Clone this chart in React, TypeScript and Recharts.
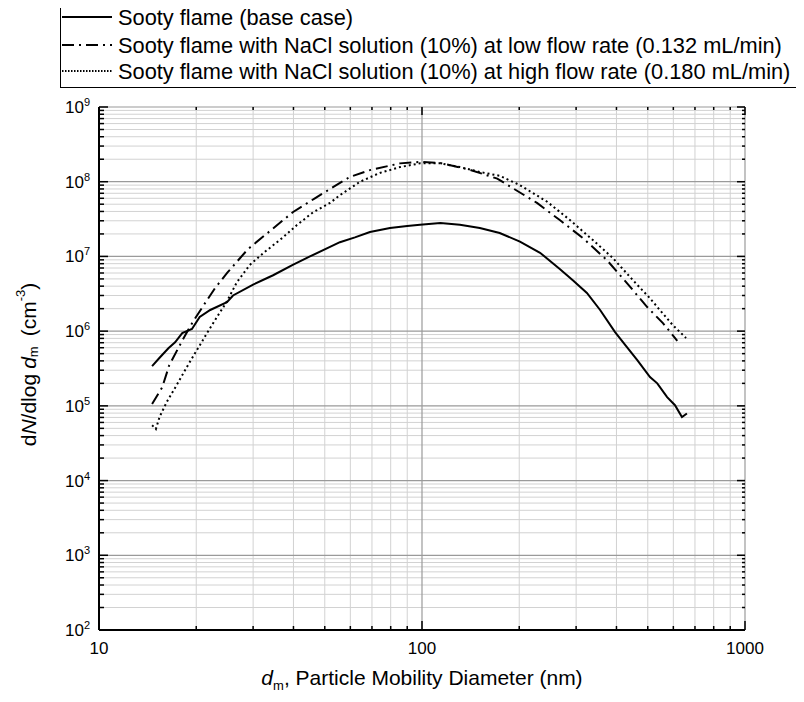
import React from 'react';
import { LineChart, Line, XAxis, YAxis, ReferenceLine, Label } from 'recharts';

const FONT = "'Liberation Sans', Arial, Helvetica, sans-serif";

// Sooty flame (base case)
const baseD = [14.6, 15.4, 16.4, 17.2, 18.1, 19.4, 20.5, 22.1, 24.9, 26.0, 30, 34.6, 39.8, 45, 51.9, 55.7, 62, 69, 79.6, 90, 98.6, 114, 131, 151, 174, 201, 232, 267, 293, 324, 356, 396, 431, 464, 508, 535, 574, 607, 638, 661];
const baseN = [3.4e5, 4.4e5, 5.9e5, 7.1e5, 9.4e5, 1.07e6, 1.55e6, 1.92e6, 2.45e6, 3.0e6, 4.2e6, 5.6e6, 7.7e6, 1.0e7, 1.34e7, 1.55e7, 1.8e7, 2.12e7, 2.4e7, 2.55e7, 2.65e7, 2.8e7, 2.65e7, 2.4e7, 2.06e7, 1.58e7, 1.12e7, 6.8e6, 4.8e6, 3.24e6, 1.92e6, 9.7e5, 6.1e5, 4.1e5, 2.43e5, 2.0e5, 1.31e5, 1.02e5, 7.1e4, 7.9e4];

// NaCl solution at low flow rate
const lowD = [14.6, 15.7, 16.5, 18.2, 19.5, 21.6, 22.9, 25, 28.9, 34.3, 39.8, 46.6, 51.9, 59.8, 69, 85.5, 98.6, 114, 141, 171, 191, 227, 267, 315, 374, 431, 498, 557, 586, 617];
const lowN = [1.06e5, 1.78e5, 3.5e5, 7.8e5, 1.32e6, 2.6e6, 3.8e6, 6.1e6, 1.25e7, 2.3e7, 3.9e7, 6.0e7, 8.0e7, 1.16e8, 1.43e8, 1.76e8, 1.84e8, 1.78e8, 1.44e8, 1.1e8, 8.2e7, 5.2e7, 3.07e7, 1.76e7, 8.9e6, 4.4e6, 2.1e6, 1.28e6, 9.8e5, 7.4e5];

// NaCl solution at high flow rate
const highD = [14.6, 15.0, 15.4, 16.2, 17.4, 18.7, 20.1, 21.6, 23.2, 24.9, 26.7, 29.3, 32.6, 36.9, 41, 46, 51.9, 55.7, 64.3, 74, 85.5, 98.6, 114, 131, 151, 174, 201, 244, 287, 338, 390, 450, 508, 546, 598, 657];
const highN = [5.5e4, 4.9e4, 7.1e4, 1.12e5, 1.9e5, 3.3e5, 5.6e5, 9.4e5, 1.55e6, 2.5e6, 4.5e6, 7.7e6, 1.15e7, 1.76e7, 2.63e7, 3.9e7, 5.2e7, 6.6e7, 1.0e8, 1.31e8, 1.57e8, 1.76e8, 1.76e8, 1.57e8, 1.35e8, 1.2e8, 9.0e7, 5.4e7, 3.07e7, 1.66e7, 9.5e6, 4.8e6, 2.75e6, 1.9e6, 1.2e6, 8.1e5];

const xTicks = [10, 20, 30, 40, 50, 60, 70, 80, 90, 100, 200, 300, 400, 500, 600, 700, 800, 900, 1000];
const yTicks = [
  100, 200, 300, 400, 500, 600, 700, 800, 900,
  1e3, 2e3, 3e3, 4e3, 5e3, 6e3, 7e3, 8e3, 9e3,
  1e4, 2e4, 3e4, 4e4, 5e4, 6e4, 7e4, 8e4, 9e4,
  1e5, 2e5, 3e5, 4e5, 5e5, 6e5, 7e5, 8e5, 9e5,
  1e6, 2e6, 3e6, 4e6, 5e6, 6e6, 7e6, 8e6, 9e6,
  1e7, 2e7, 3e7, 4e7, 5e7, 6e7, 7e7, 8e7, 9e7,
  1e8, 2e8, 3e8, 4e8, 5e8, 6e8, 7e8, 8e8, 9e8,
  1e9,
];

const legendLabels = [
  'Sooty flame (base case)',
  'Sooty flame with NaCl solution (10%) at low flow rate (0.132 mL/min)',
  'Sooty flame with NaCl solution (10%) at high flow rate (0.180 mL/min)',
];

const toRows = (ds: number[], ns: number[]) => ds.map((d, i) => ({ d, n: ns[i] }));
const baseRows = toRows(baseD, baseN);
const lowRows = toRows(lowD, lowN);
const highRows = toRows(highD, highN);

const isDecade = (v: number) => Math.abs(Math.log10(v) - Math.round(Math.log10(v))) < 1e-6;

const W = 796;
const H = 694;
const M = { top: 99, right: 59, bottom: 72, left: 91 };

const BottomLabel = (props: any) => {
  const { x, y, payload } = props;
  const v = payload.value;
  if (!isDecade(v)) return <g />;
  return (
    <text x={x} y={y + 24} textAnchor="middle" fontSize={17} fontFamily={FONT} fill="#000">
      {v}
    </text>
  );
};

const LeftLabel = (props: any) => {
  const { x, y, payload } = props;
  const v = payload.value;
  if (!isDecade(v)) return <g />;
  return (
    <text x={x - 9} y={y + 6} textAnchor="end" fontSize={17} fontFamily={FONT} fill="#000">
      10
      <tspan dy={-7} fontSize={11}>{Math.round(Math.log10(v))}</tspan>
    </text>
  );
};

// tick marks drawn at both ends of a reference line (inside the frame)
const makeVTick = (major: boolean) => (p: any) => {
  const x = p.x1;
  const yb = Math.max(p.y1, p.y2);
  const yt = Math.min(p.y1, p.y2);
  const lb = major ? 9 : 4;
  const lt = major ? 8 : 3;
  return (
    <g>
      <line x1={x} x2={x} y1={yb} y2={yb - lb} stroke="#000" strokeWidth={1.5} />
      <line x1={x} x2={x} y1={yt} y2={yt + lt} stroke="#000" strokeWidth={1.5} />
    </g>
  );
};
const makeHTick = (major: boolean) => (p: any) => {
  const y = p.y1;
  const xl = Math.min(p.x1, p.x2);
  const xr = Math.max(p.x1, p.x2);
  const ll = major ? 9 : 5;
  const lr = major ? 8 : 3;
  return (
    <g>
      <line x1={xl} x2={xl + ll} y1={y} y2={y} stroke="#000" strokeWidth={1.5} />
      <line x1={xr} x2={xr - lr} y1={y} y2={y} stroke="#000" strokeWidth={1.5} />
    </g>
  );
};

const XTitle = (props: any) => {
  const vb = props.viewBox || {};
  const cx = vb.x + vb.width / 2;
  const y = vb.y + 55;
  return (
    <text x={cx} y={y} textAnchor="middle" fontSize={21} fontFamily={FONT} fill="#000">
      <tspan fontStyle="italic">d</tspan>
      <tspan fontSize={13} dy={5}>m</tspan>
      <tspan dy={-5}>, Particle Mobility Diameter (nm)</tspan>
    </text>
  );
};

const YTitle = (props: any) => {
  const vb = props.viewBox || {};
  const cx = vb.x + 20;
  const cy = vb.y + vb.height / 2 - 4;
  return (
    <text
      x={cx}
      y={cy}
      transform={`rotate(-90, ${cx}, ${cy})`}
      textAnchor="middle"
      dominantBaseline="central"
      fontSize={21}
      fontFamily={FONT}
      fill="#000"
    >
      d<tspan fontStyle="italic">N</tspan>/dlog<tspan fontStyle="italic" dx={5}>d</tspan>
      <tspan fontSize={13} dy={5}>m</tspan>
      <tspan dy={-5} dx={10}>(cm</tspan>
      <tspan fontSize={13} dy={-8}>-3</tspan>
      <tspan dy={8}>)</tspan>
    </text>
  );
};

const LegendBox = () => {
  const dashes = [undefined, '12 5 2 5', '1.5 1.5'];
  const ys = [16, 44, 70];
  return (
    <svg width={744} height={88} style={{ position: 'absolute', left: 52, top: -7 }}>
      <rect x={0.5} y={0.5} width={742} height={86} fill="#fff" stroke="#000" strokeWidth={1} />
      {legendLabels.map((lab, i) => (
        <g key={i}>
          <line x1={2} x2={52} y1={ys[i]} y2={ys[i]} stroke="#000" strokeWidth={2} strokeDasharray={dashes[i]} />
          <text x={58} y={ys[i] + 8} fontSize={21.8} fontFamily={FONT} fill="#000">
            {lab}
          </text>
        </g>
      ))}
    </svg>
  );
};

const logX = { type: 'number' as const, scale: 'log' as const, domain: [10, 1000], allowDataOverflow: true, dataKey: 'd' };
const logY = { type: 'number' as const, scale: 'log' as const, domain: [100, 1e9], allowDataOverflow: true, dataKey: 'n' };

export default function App() {
  return (
    <div style={{ position: 'relative', width: W, height: H, background: '#fff' }}>
      {/* grid layer */}
      <div style={{ position: 'absolute', left: 0, top: 0 }}>
        <LineChart width={W} height={H} margin={M}>
          <XAxis xAxisId="g" hide {...logX} />
          <YAxis yAxisId="g" hide {...logY} />
          {xTicks.filter((v) => !isDecade(v)).map((v) => (
            <ReferenceLine key={'xm' + v} xAxisId="g" yAxisId="g" x={v} stroke="#d2d2d2" strokeWidth={1} />
          ))}
          {yTicks.filter((v) => !isDecade(v)).map((v) => (
            <ReferenceLine key={'ym' + v} xAxisId="g" yAxisId="g" y={v} stroke="#d2d2d2" strokeWidth={1} />
          ))}
          {xTicks.filter((v) => isDecade(v)).map((v) => (
            <ReferenceLine key={'xM' + v} xAxisId="g" yAxisId="g" x={v} stroke="#9a9a9a" strokeWidth={1.2} />
          ))}
          {yTicks.filter((v) => isDecade(v)).map((v) => (
            <ReferenceLine key={'yM' + v} xAxisId="g" yAxisId="g" y={v} stroke="#9a9a9a" strokeWidth={1.2} />
          ))}
        </LineChart>
      </div>
      {/* data + axes layer */}
      <div style={{ position: 'absolute', left: 0, top: 0 }}>
        <LineChart width={W} height={H} margin={{ top: M.top, right: M.right, bottom: 0, left: 0 }}>
          <XAxis
            xAxisId="b"
            {...logX}
            ticks={xTicks}
            interval={0}
            tickSize={0}
            tickMargin={0}
            tickLine={false}
            tick={BottomLabel}
            axisLine={{ stroke: '#000', strokeWidth: 2 }}
            height={M.bottom}
          >
            <Label content={XTitle} />
          </XAxis>
          <XAxis
            xAxisId="t"
            orientation="top"
            {...logX}
            ticks={xTicks}
            tick={false}
            tickLine={false}
            axisLine={{ stroke: '#000', strokeWidth: 2 }}
            height={0}
          />
          <YAxis
            yAxisId="l"
            {...logY}
            ticks={yTicks}
            interval={0}
            tickSize={0}
            tickMargin={0}
            tickLine={false}
            tick={LeftLabel}
            axisLine={{ stroke: '#000', strokeWidth: 2 }}
            width={M.left}
          >
            <Label content={YTitle} />
          </YAxis>
          <YAxis
            yAxisId="r"
            orientation="right"
            {...logY}
            ticks={yTicks}
            tick={false}
            tickLine={false}
            axisLine={{ stroke: '#000', strokeWidth: 2 }}
            width={0}
          />
          {xTicks.map((v) => (
            <ReferenceLine key={'tx' + v} xAxisId="b" yAxisId="l" x={v} shape={makeVTick(isDecade(v))} />
          ))}
          {yTicks.map((v) => (
            <ReferenceLine key={'ty' + v} xAxisId="b" yAxisId="l" y={v} shape={makeHTick(isDecade(v))} />
          ))}
          <Line
            xAxisId="b"
            yAxisId="l"
            data={baseRows}
            dataKey="n"
            type="linear"
            stroke="#000"
            strokeWidth={2}
            dot={false}
            isAnimationActive={false}
          />
          <Line
            xAxisId="b"
            yAxisId="l"
            data={lowRows}
            dataKey="n"
            type="linear"
            stroke="#000"
            strokeWidth={2}
            strokeDasharray="12 5 2 5"
            dot={false}
            isAnimationActive={false}
          />
          <Line
            xAxisId="b"
            yAxisId="l"
            data={highRows}
            dataKey="n"
            type="linear"
            stroke="#000"
            strokeWidth={2}
            strokeDasharray="2 3"
            dot={false}
            isAnimationActive={false}
          />
        </LineChart>
      </div>
      <LegendBox />
    </div>
  );
}
